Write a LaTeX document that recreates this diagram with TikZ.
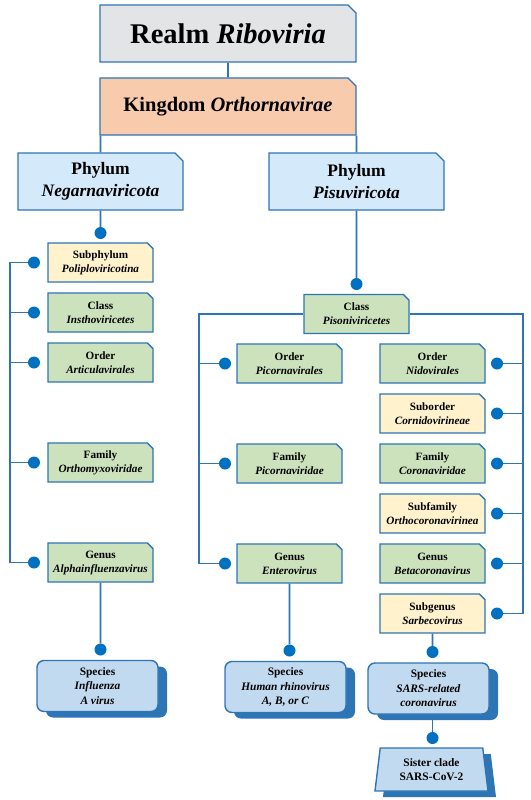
\documentclass[tikz,border=0pt]{standalone}
\usepackage{fontspec}
\setmainfont{Liberation Serif}
\definecolor{taxblue}{RGB}{46,117,182}
\definecolor{dotblue}{RGB}{0,112,192}
\definecolor{realmgray}{RGB}{226,228,230}
\definecolor{kingpeach}{RGB}{248,203,173}
\definecolor{phylblue}{RGB}{212,234,250}
\definecolor{rankgreen}{RGB}{204,226,188}
\definecolor{rankyellow}{RGB}{255,242,204}
\definecolor{specblue}{RGB}{194,218,240}
\usetikzlibrary{shapes,shadows}
\tikzstyle{rank} = [chamfered rectangle, chamfered rectangle corners=north east,
    chamfered rectangle xsep=2.8pt, chamfered rectangle ysep=2.8pt, draw=taxblue,
    line width=1.4pt, fill=rankgreen, align=center, minimum width=105pt,
    minimum height=39pt, inner sep=1pt, font=\fontsize{11.2}{14}\selectfont\bfseries]
\tikzstyle{subrank} = [rank, fill=rankyellow]
\tikzstyle{phylbox} = [rank, chamfered rectangle xsep=4pt, chamfered rectangle ysep=4pt,
    minimum height=57pt, fill=phylblue, font=\fontsize{17.5}{21.5}\selectfont\bfseries]
\tikzstyle{species} = [rectangle, rounded corners=7pt, draw=taxblue, line width=1.4pt,
    fill=specblue, align=center, minimum width=121pt, minimum height=51pt, inner sep=1pt,
    font=\fontsize{11.4}{14.5}\selectfont\bfseries,
    drop shadow={shadow xshift=9pt, shadow yshift=-6pt, fill=taxblue, opacity=1}]
\tikzstyle{sister} = [trapezium, trapezium left angle=78, trapezium right angle=78,
    trapezium stretches body=true, draw=taxblue, line width=1.4pt, fill=specblue,
    align=center, minimum width=113pt, minimum height=43pt, inner sep=1pt,
    font=\fontsize{11.4}{14.5}\selectfont\bfseries,
    drop shadow={shadow xshift=8pt, shadow yshift=-6pt, fill=taxblue, opacity=1}]
\tikzstyle{bullet} = [circle, fill=dotblue, inner sep=0pt, minimum size=12pt]
\tikzstyle{line} = [draw=taxblue, line width=1.6pt]

\begin{document}
\begin{tikzpicture}[x=1pt, y=-1pt, node distance=50pt]
  \useasboundingbox (0,0) rectangle (530,800);
  \node [phylbox, fill=realmgray, minimum width=256pt, font=\fontsize{28.5}{30}\selectfont\bfseries] (realm) at (228,33.5) {Realm \textit{Riboviria}};
  \node [phylbox, fill=kingpeach, minimum width=256pt, font=\fontsize{20.5}{22}\selectfont\bfseries] (kingdom) at (228,106.5) {Kingdom \textit{Orthornavirae}};
  \path [line] (realm) -- (kingdom);
  \node [phylbox, minimum width=165pt] (negarna) at (100.5,181.5) {Phylum\\\textit{Negarnaviricota}};
  \node [phylbox, minimum width=175pt] (pisuvir) at (356.5,181.5) {Phylum\\\textit{Pisuviricota}};
  \path [line] (kingdom.south -| negarna.north) -- (negarna);
  \path [line] (kingdom.south -| pisuvir.north) -- (pisuvir);
  % Negarnaviricota branch
  \node [bullet, below of=negarna, node distance=51.5pt] (b_negarna) {};
  \path [line] (negarna) -- (b_negarna);
  \node [subrank] (poliplo) at (100.5,262.5) {Subphylum\\\textit{Poliploviricotina}};
  \node [rank, below of=poliplo] (instho) {Class\\\textit{Insthoviricetes}};
  \node [rank, below of=instho] (articula) {Order\\\textit{Articulavirales}};
  \node [rank, below of=articula, node distance=100pt] (orthomyxo) {Family\\\textit{Orthomyxoviridae}};
  \node [rank, below of=orthomyxo, node distance=100pt] (alphainf) {Genus\\\textit{Alphainfluenzavirus}};
  \node [bullet, left of=poliplo, node distance=66.5pt] (b_poliplo) {};
  \node [bullet, left of=instho, node distance=66.5pt] (b_instho) {};
  \node [bullet, left of=articula, node distance=66.5pt] (b_articula) {};
  \node [bullet, left of=orthomyxo, node distance=66.5pt] (b_orthomyxo) {};
  \node [bullet, left of=alphainf, node distance=66.5pt] (b_alphainf) {};
  \coordinate (railL) at (10,0);
  \path [line] (b_poliplo) -| (railL |- b_alphainf) -- (b_alphainf);
  \path [line] (b_instho) -- (b_instho -| railL);
  \path [line] (b_articula) -- (b_articula -| railL);
  \path [line] (b_orthomyxo) -- (b_orthomyxo -| railL);
  % Pisuviricota branch
  \node [bullet, below of=pisuvir, node distance=102.5pt] (b_pisuvir) {};
  \path [line] (pisuvir) -- (b_pisuvir);
  \node [rank] (pisoni) at (356.5,314) {Class\\\textit{Pisoniviricetes}};
  \node [rank] (picornales) at (289.5,363.5) {Order\\\textit{Picornavirales}};
  \node [rank, below of=picornales, node distance=100pt] (picornidae) {Family\\\textit{Picornaviridae}};
  \node [rank, below of=picornidae, node distance=100pt] (entero) {Genus\\\textit{Enterovirus}};
  \node [bullet, left of=picornales, node distance=64.5pt] (b_picornales) {};
  \node [bullet, left of=picornidae, node distance=64.5pt] (b_picornidae) {};
  \node [bullet, left of=entero, node distance=64.5pt] (b_entero) {};
  \node [rank] (nido) at (432.5,363.5) {Order\\\textit{Nidovirales}};
  \node [subrank, below of=nido] (cornido) {Suborder\\\textit{Cornidovirineae}};
  \node [rank, below of=cornido] (corona) {Family\\\textit{Coronaviridae}};
  \node [subrank, below of=corona] (orthocorona) {Subfamily\\\textit{Orthocoronavirinea}};
  \node [rank, below of=orthocorona] (betacorona) {Genus\\\textit{Betacoronavirus}};
  \node [subrank, below of=betacorona] (sarbeco) {Subgenus\\\textit{Sarbecovirus}};
  \node [bullet, right of=nido, node distance=64.5pt] (b_nido) {};
  \node [bullet, right of=cornido, node distance=64.5pt] (b_cornido) {};
  \node [bullet, right of=corona, node distance=64.5pt] (b_corona) {};
  \node [bullet, right of=orthocorona, node distance=64.5pt] (b_orthocorona) {};
  \node [bullet, right of=betacorona, node distance=64.5pt] (b_betacorona) {};
  \node [bullet, right of=sarbeco, node distance=64.5pt] (b_sarbeco) {};
  \coordinate (railM) at (199,0);
  \coordinate (railR) at (523,0);
  \path [line] (pisoni) -| (railM |- b_entero) -- (b_entero);
  \path [line] (b_picornales) -- (b_picornales -| railM);
  \path [line] (b_picornidae) -- (b_picornidae -| railM);
  \path [line] (pisoni) -| (railR |- b_sarbeco) -- (b_sarbeco);
  \path [line] (b_nido) -- (b_nido -| railR);
  \path [line] (b_cornido) -- (b_cornido -| railR);
  \path [line] (b_corona) -- (b_corona -| railR);
  \path [line] (b_orthocorona) -- (b_orthocorona -| railR);
  \path [line] (b_betacorona) -- (b_betacorona -| railR);
  % species
  \node [bullet, below of=alphainf, node distance=87pt] (b_influenza) {};
  \node [species, below of=b_influenza, node distance=36.5pt, xshift=-3pt] (influenza) {Species\\\textit{Influenza}\\\textit{A virus}};
  \path [line] (alphainf) -- (b_influenza);
  \node [bullet, below of=entero, node distance=87pt] (b_rhino) {};
  \node [species, below of=b_rhino, node distance=36.5pt, xshift=-4pt] (rhino) {Species\\\textit{Human rhinovirus}\\\textit{A, B, or C}};
  \path [line] (entero) -- (b_rhino);
  \node [bullet, below of=sarbeco, node distance=38.5pt] (b_sars) {};
  \node [species, below of=b_sars, node distance=36.5pt, xshift=-4pt] (sars) {Species\\\textit{SARS-related}\\\textit{coronavirus}};
  \path [line] (sarbeco) -- (b_sars);
  \node [bullet, below of=b_sars, node distance=86pt] (b_sister) {};
  \path [line] (b_sister |- sars.south) -- (b_sister);
  \node [sister, below of=b_sister, node distance=31.5pt, xshift=-1pt] (sister) {Sister clade\\SARS-CoV-2};
\end{tikzpicture}
\end{document}
